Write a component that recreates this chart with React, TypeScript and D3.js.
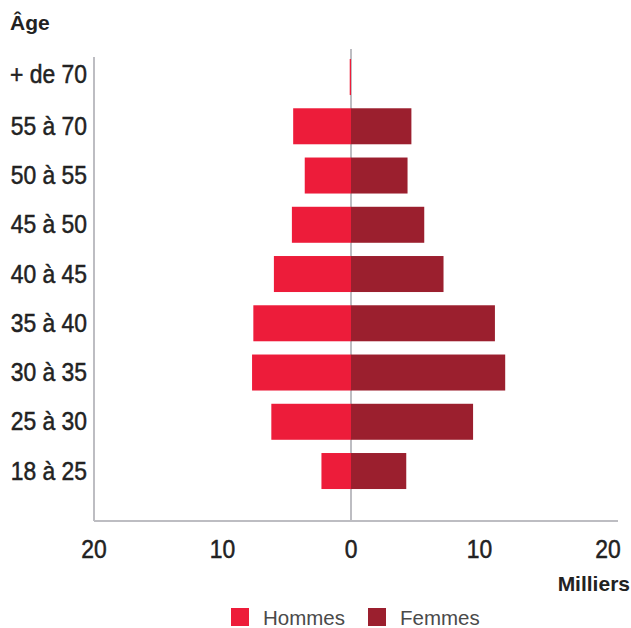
import React from "react";
import * as d3 from "d3";

const ageGroups = ["+ de 70", "55 à 70", "50 à 55", "45 à 50", "40 à 45", "35 à 40", "30 à 35", "25 à 30", "18 à 25"];
const hommes = [0.1, 4.5, 3.6, 4.6, 6.0, 7.6, 7.7, 6.2, 2.3];
const femmes = [0, 4.7, 4.4, 5.7, 7.2, 11.2, 12.0, 9.5, 4.3];
const xTicks = [-20, -10, 0, 10, 20];
const seriesNames = ["Hommes", "Femmes"];
const seriesColors = ["#ED1C3A", "#9B1F2E"];

const W = 631;
const H = 628;
const sans = "'Liberation Sans', Arial, sans-serif";
const SX = 0.88;

function CondText({ x, y, anchor, children }: { x: number; y: number; anchor: string; children: React.ReactNode }) {
  return (
    <g transform={`translate(${x},${y}) scale(${SX},1)`}>
      <text x={0} y={0} textAnchor={anchor} fontFamily={sans} fontSize={26} fill="#222" stroke="#222" strokeWidth={0.5}>{children}</text>
    </g>
  );
}

export default function App() {
  const x = d3.scaleLinear().domain([-20, 20]).range([94, 608]);
  const y = d3.scaleBand<string>().domain(ageGroups).range([52.4, 495.65]).paddingInner(0.269).paddingOuter(0.1345);
  const axisY = 521;
  const bw = y.bandwidth();

  return (
    <svg width={W} height={H} style={{ position: "absolute", left: 0, top: 0, background: "#fff" }}>
      <text x={10} y={30} fontFamily={sans} fontWeight="bold" fontSize={21} fill="#222">Âge</text>
      <line x1={x(-20)} x2={x(-20)} y1={57} y2={axisY} stroke="#bdbdc2" strokeWidth={2} />
      <line x1={x(-20)} x2={618} y1={axisY} y2={axisY} stroke="#bdbdc2" strokeWidth={2} />
      <line x1={x(0)} x2={x(0)} y1={49} y2={axisY} stroke="#bdbdc2" strokeWidth={2} />
      {ageGroups.map((g, i) => (
        <g key={g}>
          <rect x={x(-hommes[i])} y={y(g)} width={x(0) - x(-hommes[i])} height={bw} fill={seriesColors[0]} />
          <rect x={x(0)} y={y(g)} width={x(femmes[i]) - x(0)} height={bw} fill={seriesColors[1]} />
          <CondText x={87} y={(y(g) as number) + bw / 2 + 8.5 - (i === 0 ? 3 : 0)} anchor="end">{g}</CondText>
        </g>
      ))}
      {xTicks.map((t) => (
        <CondText key={t} x={x(t)} y={558} anchor="middle">{Math.abs(t)}</CondText>
      ))}
      <text x={630} y={591} textAnchor="end" fontFamily={sans} fontWeight="bold" fontSize={21} fill="#222">Milliers</text>
      {seriesNames.map((s, i) => {
        const lx = [231, 368][i];
        return (
          <g key={s}>
            <rect x={lx} y={608} width={18} height={18} fill={seriesColors[i]} />
            <text x={lx + 32} y={625} fontFamily={sans} fontSize={20.5} fill="#4a4a4a">{s}</text>
          </g>
        );
      })}
    </svg>
  );
}
